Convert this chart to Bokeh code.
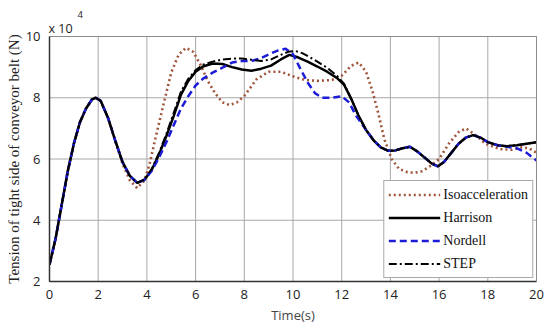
from bokeh.plotting import figure
from bokeh.models import Legend, LegendItem, Range1d, FixedTicker, LinearAxis, Title
from bokeh.embed import file_html
from bokeh.resources import INLINE

# ---------------- data (tension in units of 1e4 N) ----------------
x_ticks = [0, 2, 4, 6, 8, 10, 12, 14, 16, 18, 20]
y_ticks = [2, 4, 6, 8, 10]

t_harrison = [0, 0.25, 0.5, 0.75, 1.0, 1.25, 1.5, 1.75, 1.9, 2.1, 2.4, 2.7, 3.0, 3.3, 3.6,
              3.9, 4.2, 4.5, 4.8, 5.1, 5.4, 5.7, 6.0, 6.3, 6.7, 7.1, 7.5, 7.9, 8.3, 8.7,
              9.1, 9.5, 9.85, 10.2, 10.6, 11.0, 11.4, 11.8, 12.1, 12.4, 12.7, 13.0, 13.3,
              13.6, 13.9, 14.2, 14.5, 14.8, 15.1, 15.4, 15.7, 15.95, 16.2, 16.5, 16.8,
              17.1, 17.4, 17.7, 18.0, 18.4, 18.8, 19.2, 19.6, 20]
v_harrison = [2.55, 3.4, 4.5, 5.6, 6.5, 7.2, 7.65, 7.95, 8.0, 7.9, 7.35, 6.6, 5.9, 5.45, 5.22,
              5.32, 5.65, 6.15, 6.75, 7.4, 8.1, 8.55, 8.85, 9.02, 9.12, 9.1, 9.0, 8.92, 8.88, 8.95,
              9.05, 9.25, 9.4, 9.32, 9.18, 9.02, 8.85, 8.65, 8.42, 7.95, 7.4, 6.95, 6.62,
              6.38, 6.27, 6.28, 6.35, 6.4, 6.25, 6.05, 5.85, 5.76, 5.9, 6.2, 6.5,
              6.7, 6.78, 6.7, 6.55, 6.45, 6.42, 6.45, 6.5, 6.55]

t_nordell = [0, 0.25, 0.5, 0.75, 1.0, 1.25, 1.5, 1.75, 1.9, 2.1, 2.4, 2.7, 3.0, 3.3, 3.6,
             3.9, 4.2, 4.5, 4.8, 5.1, 5.4, 5.7, 6.0, 6.3, 6.7, 7.1, 7.5, 7.9, 8.3, 8.7,
             9.1, 9.4, 9.7, 10.0, 10.3, 10.6, 10.9, 11.2, 11.6, 12.0, 12.3, 12.6, 13.0, 13.3,
             13.6, 13.9, 14.2, 14.5, 14.8, 15.1, 15.4, 15.7, 15.95, 16.2, 16.5, 16.8,
             17.1, 17.4, 17.7, 18.0, 18.4, 18.8, 19.2, 19.6, 20]
v_nordell = [2.55, 3.4, 4.5, 5.6, 6.5, 7.2, 7.65, 7.95, 8.0, 7.9, 7.35, 6.6, 5.9, 5.45, 5.22,
             5.32, 5.62, 6.05, 6.55, 7.1, 7.65, 8.05, 8.4, 8.62, 8.82, 8.98, 9.15, 9.2, 9.2, 9.3,
             9.45, 9.55, 9.6, 9.42, 8.95, 8.5, 8.15, 8.0, 8.0, 8.05, 7.85, 7.4, 6.95, 6.62,
             6.38, 6.27, 6.28, 6.35, 6.4, 6.25, 6.05, 5.85, 5.76, 5.9, 6.2, 6.5,
             6.7, 6.78, 6.7, 6.55, 6.45, 6.4, 6.35, 6.2, 5.95]

t_step = [0, 0.25, 0.5, 0.75, 1.0, 1.25, 1.5, 1.75, 1.9, 2.1, 2.4, 2.7, 3.0, 3.3, 3.6,
          3.9, 4.2, 4.5, 4.8, 5.1, 5.4, 5.7, 6.0, 6.3, 6.7, 7.1, 7.5, 7.9, 8.3, 8.7,
          9.1, 9.5, 9.8, 10.1, 10.4, 10.7, 11.0, 11.4, 11.8, 12.1, 12.4, 12.7, 13.0, 13.3,
          13.6, 13.9, 14.2, 14.5, 14.8, 15.1, 15.4, 15.7, 15.95, 16.2, 16.5, 16.8,
          17.1, 17.4, 17.7, 18.0, 18.4, 18.8, 19.2, 19.6, 20]
v_step = [2.55, 3.4, 4.5, 5.6, 6.5, 7.2, 7.65, 7.95, 8.0, 7.9, 7.35, 6.6, 5.9, 5.45, 5.22,
          5.33, 5.68, 6.2, 6.82, 7.5, 8.2, 8.62, 8.9, 9.08, 9.18, 9.25, 9.28, 9.28, 9.24, 9.2,
          9.25, 9.4, 9.5, 9.53, 9.45, 9.32, 9.18, 8.98, 8.72, 8.45, 7.95, 7.4, 6.95, 6.62,
          6.38, 6.27, 6.28, 6.35, 6.4, 6.25, 6.05, 5.85, 5.76, 5.9, 6.2, 6.5,
          6.7, 6.78, 6.7, 6.55, 6.45, 6.42, 6.45, 6.5, 6.55]

t_iso = [0, 0.25, 0.5, 0.75, 1.0, 1.25, 1.5, 1.75, 1.9, 2.1, 2.4, 2.7, 3.0, 3.3, 3.6,
         3.9, 4.1, 4.34, 4.68, 5.0, 5.3, 5.6, 5.9, 6.2, 6.5, 6.8, 7.1, 7.4, 7.7, 8.0,
         8.5, 9.0, 9.5, 10.0, 10.5, 11.0, 11.6, 12.0, 12.4, 12.7, 13.0, 13.25, 13.5,
         13.75, 14.05, 14.35, 14.7, 15.0, 15.3, 15.6, 16.0, 16.4, 16.8, 17.1, 17.5,
         17.9, 18.5, 19.0, 19.4, 19.7, 20]
v_iso = [2.55, 3.4, 4.5, 5.6, 6.5, 7.2, 7.65, 7.95, 8.0, 7.9, 7.35, 6.6, 5.85, 5.3, 5.05,
         5.3, 5.8, 6.64, 7.78, 8.82, 9.4, 9.63, 9.5, 9.08, 8.55, 8.15, 7.85, 7.76, 7.85, 8.06,
         8.6, 8.85, 8.85, 8.7, 8.58, 8.55, 8.58, 8.72, 9.05, 9.15, 8.85, 8.25, 7.5,
         6.65, 6.0, 5.68, 5.57, 5.55, 5.6, 5.75, 6.0, 6.5, 6.88, 7.0, 6.78,
         6.5, 6.32, 6.3, 6.38, 6.35, 6.2]

GRID = "#a8a8a8"
FRAME = "#8c8c8c"

# ---------------- figure ----------------
p = figure(frame_width=487, frame_height=245, output_backend="svg", toolbar_location=None,
           title=None, x_range=Range1d(0, 20), y_range=Range1d(2, 10),
           min_border_left=49, min_border_right=10, min_border_top=36, min_border_bottom=40)
p.outline_line_color = FRAME
p.xgrid.visible = False
p.ygrid.visible = False

for ax in (p.xaxis, p.yaxis):
    ax.axis_line_color = "#333333"
    ax.axis_line_width = 1.5
    ax.major_tick_line_color = None
    ax.minor_tick_line_color = None
    ax.major_label_text_font = "Open Sans"
    ax.major_label_text_font_size = "13px"
    ax.major_label_text_color = "#222222"

p.xaxis.ticker = FixedTicker(ticks=x_ticks)
p.yaxis.ticker = FixedTicker(ticks=y_ticks)
p.xaxis.major_label_standoff = 2
p.yaxis.major_label_standoff = 3

p.xaxis.axis_label = "Time(s)"
p.xaxis.axis_label_text_font = "Open Sans"
p.xaxis.axis_label_text_font_style = "normal"
p.xaxis.axis_label_text_font_size = "13px"
p.xaxis.axis_label_standoff = 4

# y axis title, shifted slightly upward as in the original
p.add_layout(Title(text="Tension of tight side of conveyor belt (N)", align="center",
                   offset=7, standoff=1, text_font="Liberation Serif",
                   text_font_size="15px", text_font_style="normal",
                   text_color="#222222"), "left")

# grid lines drawn at the tick positions
p.segment(x0=x_ticks, y0=[y_ticks[0]] * len(x_ticks), x1=x_ticks, y1=[y_ticks[-1]] * len(x_ticks),
          line_color=GRID, line_width=1)
p.segment(x0=[x_ticks[0]] * len(y_ticks), y0=y_ticks, x1=[x_ticks[-1]] * len(y_ticks), y1=y_ticks,
          line_color=GRID, line_width=1)

# gray frame on top and right
for loc in ("above", "right"):
    a = LinearAxis(ticker=FixedTicker(ticks=[]), axis_line_color=FRAME, axis_line_width=1,
                   major_tick_line_color=None, minor_tick_line_color=None)
    p.add_layout(a, loc)

r_iso = p.line(t_iso, v_iso, line_color="#a0553a", line_width=2.6, line_dash="2 3")
r_har = p.line(t_harrison, v_harrison, line_color="black", line_width=2.5)
r_nor = p.line(t_nordell, v_nordell, line_color="#1c1cd8", line_width=2.5, line_dash="7 4")
r_step = p.line(t_step, v_step, line_color="black", line_width=2, line_dash="8 3 2 3")

legend = Legend(items=[LegendItem(label="Isoacceleration", renderers=[r_iso]),
                       LegendItem(label="Harrison", renderers=[r_har]),
                       LegendItem(label="Nordell", renderers=[r_nor]),
                       LegendItem(label="STEP", renderers=[r_step])],
                location="bottom_right")
legend.margin = 3
legend.padding = 4
legend.spacing = 4
legend.glyph_width = 52
legend.glyph_height = 19
legend.label_height = 19
legend.label_standoff = 3
legend.label_text_font = "Liberation Serif"
legend.label_text_font_size = "14px"
legend.label_text_color = "#111111"
legend.border_line_color = "#555555"
legend.border_line_width = 1
legend.background_fill_alpha = 1
p.add_layout(legend)

p.add_layout(Title(text="x 10", align="left", offset=-1, standoff=0,
                   text_font="Open Sans", text_font_size="12.5px", text_font_style="normal",
                   text_color="#222222"), "above")
p.add_layout(Title(text="4", align="left", offset=28, standoff=0,
                   text_font="Open Sans", text_font_size="9.5px", text_font_style="normal",
                   text_color="#222222"), "above")

open("out.html", "w").write(file_html(p, INLINE))
